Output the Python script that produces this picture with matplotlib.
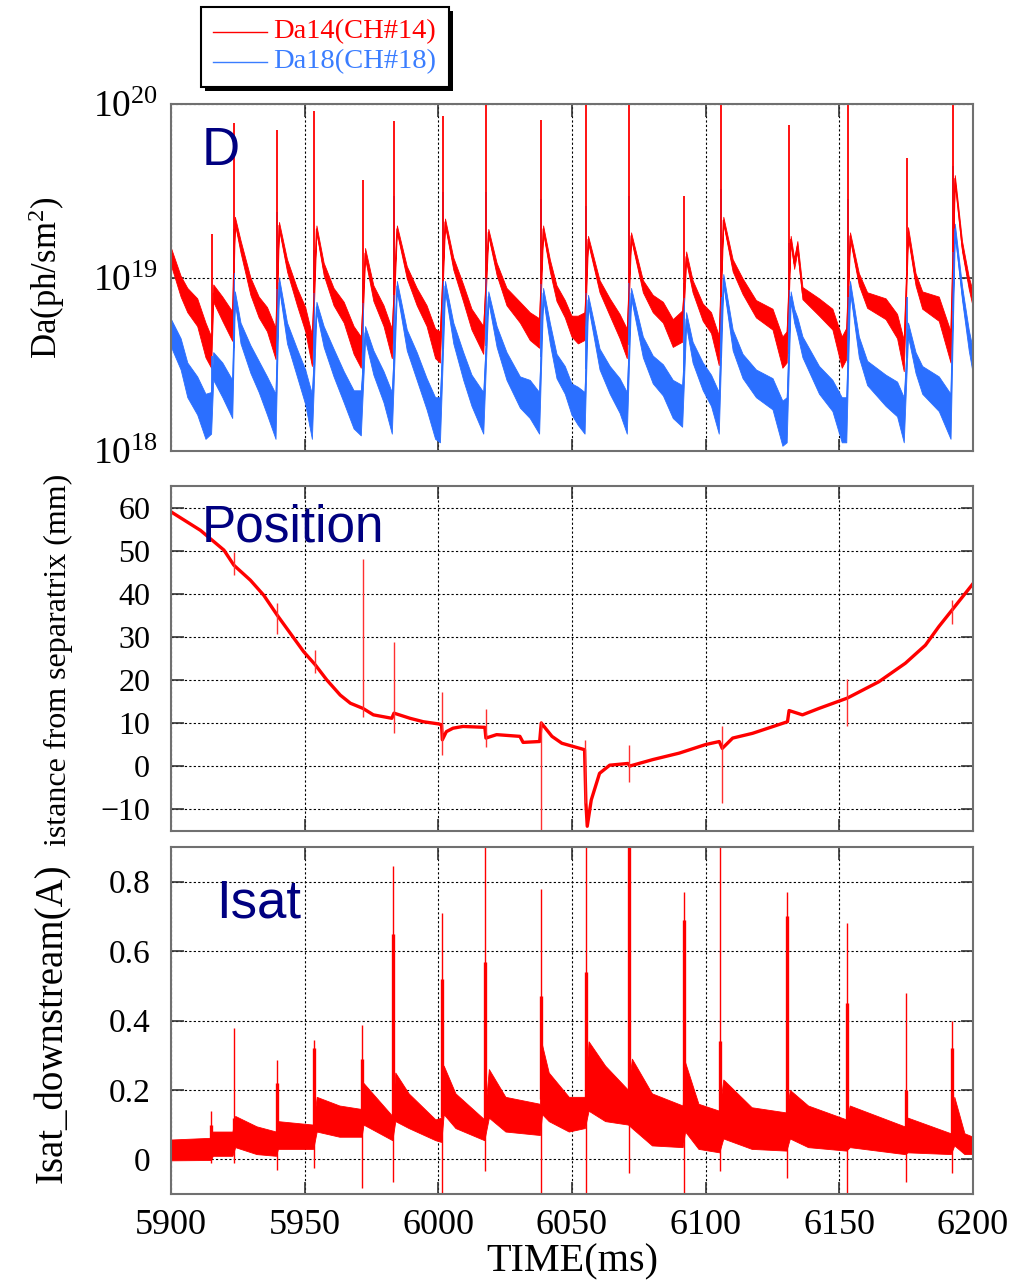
import numpy as np
import matplotlib.pyplot as plt
from matplotlib.lines import Line2D
from matplotlib.patches import Rectangle
from matplotlib.ticker import NullLocator

plt.rcParams['font.family'] = ['Liberation Serif', 'DejaVu Serif']
plt.rcParams['mathtext.fontset'] = 'custom'
plt.rcParams['mathtext.rm'] = 'Liberation Serif'
plt.rcParams['mathtext.it'] = 'Liberation Serif:italic'
plt.rcParams['mathtext.bf'] = 'Liberation Serif:bold'

W, H = 1032, 1282
RED = '#ff0000'
BLUE = '#2b6fff'
NAVY = '#000080'

time_ticks = [5900, 5950, 6000, 6050, 6100, 6150, 6200]

# ---- Da signals (log10 of ph/sm^2), knot times shared by both channels ----
da_time = [5900.0, 5903.6, 5906.1, 5909.8, 5912.9, 5915.0, 5915.8, 5919.2, 5922.9,
           5923.9, 5926.0, 5929.7, 5932.8, 5935.9, 5939.1,
           5940.4, 5943.4, 5947.1, 5950.2, 5952.7,
           5954.4, 5957.1, 5960.8, 5964.6, 5968.3, 5971.0,
           5972.6, 5975.7, 5979.5, 5982.6,
           5984.5, 5988.2, 5991.9, 5995.6, 5998.8, 6000.6,
           6002.5, 6005.6, 6009.3, 6012.4, 6016.8,
           6018.7, 6021.8, 6025.5, 6030.5, 6034.2, 6037.7,
           6039.2, 6041.7, 6044.2, 6047.3, 6049.8, 6052.2, 6054.7,
           6056.0, 6060.3, 6064.1, 6067.8, 6070.5,
           6072.1, 6076.5, 6080.2, 6084.0, 6087.7, 6091.2,
           6092.7, 6095.1, 6098.9, 6102.0, 6104.9,
           6106.6, 6110.1, 6113.8, 6118.8, 6125.0, 6128.7, 6130.3,
           6131.8, 6133.1, 6134.3, 6136.2, 6142.4, 6147.4, 6150.9, 6152.6,
           6154.0, 6157.3, 6160.4, 6167.3, 6171.6, 6174.1,
           6175.7, 6178.5, 6181.0, 6187.2, 6191.6,
           6193.2, 6195.9, 6198.4, 6200.0]
da14 = [19.12, 18.95, 18.87, 18.80, 18.64, 18.57, 18.91, 18.82, 18.72,
        19.33, 19.18, 18.95, 18.83, 18.76, 18.62,
        19.30, 19.07, 18.89, 18.76, 18.58,
        19.28, 19.05, 18.89, 18.80, 18.64, 18.57,
        19.14, 18.91, 18.78, 18.62,
        19.28, 19.03, 18.89, 18.78, 18.62, 18.60,
        19.32, 19.08, 18.91, 18.76, 18.64,
        19.26, 19.05, 18.89, 18.80, 18.72, 18.68,
        19.28, 19.07, 18.91, 18.82, 18.72, 18.70, 18.72,
        19.22, 18.95, 18.83, 18.72, 18.62,
        19.24, 18.95, 18.85, 18.80, 18.68, 18.72,
        19.12, 18.95, 18.80, 18.74, 18.58,
        19.33, 19.07, 18.95, 18.82, 18.76, 18.57, 18.60,
        19.22, 19.08, 19.18, 18.91, 18.83, 18.76, 18.57, 18.62,
        19.24, 18.99, 18.87, 18.82, 18.72, 18.55,
        19.26, 18.99, 18.87, 18.82, 18.60,
        19.57, 19.18, 18.97, 18.87]
da18 = [18.68, 18.56, 18.41, 18.32, 18.20, 18.22, 18.49, 18.41, 18.30,
        18.89, 18.68, 18.53, 18.43, 18.32, 18.20,
        18.97, 18.68, 18.51, 18.37, 18.20,
        18.83, 18.66, 18.51, 18.37, 18.24, 18.22,
        18.68, 18.51, 18.37, 18.22,
        18.95, 18.64, 18.49, 18.33, 18.19, 18.18,
        18.95, 18.68, 18.49, 18.35, 18.22,
        18.89, 18.66, 18.49, 18.34, 18.30, 18.22,
        18.91, 18.68, 18.49, 18.41, 18.30, 18.26, 18.22,
        18.87, 18.53, 18.41, 18.32, 18.22,
        18.91, 18.60, 18.47, 18.41, 18.30, 18.26,
        18.76, 18.57, 18.43, 18.35, 18.22,
        18.99, 18.64, 18.49, 18.39, 18.33, 18.16, 18.18,
        18.89, 18.78, 18.72, 18.60, 18.41, 18.32, 18.18, 18.18,
        18.95, 18.60, 18.45, 18.35, 18.30, 18.18,
        18.70, 18.51, 18.41, 18.33, 18.20,
        19.28, 18.91, 18.64, 18.51]
# half width of the noise band, in decades
da14_noise = [0.05, 0.06, 0.07, 0.08, 0.10, 0.09, 0.05, 0.07, 0.085,
              0.02, 0.035, 0.05, 0.06, 0.07, 0.09,
              0.02, 0.035, 0.05, 0.07, 0.09,
              0.02, 0.035, 0.05, 0.06, 0.08, 0.09,
              0.03, 0.045, 0.06, 0.085,
              0.02, 0.035, 0.05, 0.06, 0.085, 0.09,
              0.02, 0.035, 0.05, 0.06, 0.08,
              0.02, 0.035, 0.05, 0.06, 0.08, 0.085,
              0.02, 0.035, 0.045, 0.05, 0.06, 0.08, 0.08,
              0.02, 0.035, 0.05, 0.07, 0.085,
              0.02, 0.035, 0.05, 0.06, 0.08, 0.09,
              0.03, 0.035, 0.05, 0.06, 0.085,
              0.02, 0.035, 0.045, 0.05, 0.06, 0.09, 0.09,
              0.02, 0.03, 0.03, 0.035, 0.05, 0.06, 0.09, 0.09,
              0.02, 0.035, 0.045, 0.06, 0.07, 0.09,
              0.03, 0.035, 0.05, 0.07, 0.09,
              0.02, 0.03, 0.035, 0.045]
da18_noise = [0.08, 0.09, 0.10, 0.11, 0.13, 0.12, 0.08, 0.10, 0.11,
              0.03, 0.06, 0.08, 0.09, 0.11, 0.13,
              0.03, 0.06, 0.08, 0.10, 0.13,
              0.03, 0.06, 0.08, 0.09, 0.11, 0.13,
              0.04, 0.07, 0.09, 0.12,
              0.03, 0.06, 0.08, 0.09, 0.12, 0.13,
              0.03, 0.06, 0.08, 0.09, 0.12,
              0.03, 0.06, 0.08, 0.09, 0.11, 0.12,
              0.03, 0.06, 0.07, 0.08, 0.09, 0.11, 0.12,
              0.03, 0.06, 0.08, 0.10, 0.12,
              0.03, 0.06, 0.08, 0.09, 0.11, 0.12,
              0.04, 0.06, 0.08, 0.09, 0.12,
              0.03, 0.06, 0.07, 0.08, 0.09, 0.13, 0.13,
              0.03, 0.04, 0.05, 0.06, 0.08, 0.09, 0.13, 0.13,
              0.03, 0.06, 0.07, 0.09, 0.10, 0.13,
              0.04, 0.06, 0.08, 0.10, 0.13,
              0.03, 0.04, 0.06, 0.07]
# ELM bursts
elm_time = [5915.3, 5923.4, 5939.7, 5953.5, 5971.8, 5983.4, 6001.6, 6017.9, 6038.4,
            6055.2, 6071.4, 6091.8, 6105.6, 6131.1, 6153.2, 6175.2, 6192.5]
da14_peak = [19.25, 19.89, 19.85, 19.96, 19.56, 19.90, 19.93, 20.1, 19.91,
             20.1, 20.1, 19.47, 20.1, 19.88, 20.1, 19.69, 20.1]
da18_peak = [18.55, 19.28, 19.38, 19.16, 18.99, 19.47, 19.49, 19.49, 19.45,
             19.41, 19.47, 18.97, 19.51, 19.20, 19.45, 18.89, 19.64]

# ---- probe position (mm from separatrix) ----
pos_time = [5900.0, 5911.0, 5919.8, 5923.5, 5929.7, 5934.7, 5939.7, 5944.7, 5949.6,
            5954.0, 5958.3, 5963.3, 5967.1, 5971.8, 5975.7, 5982.6, 5983.4, 5989.4,
            5994.4, 6000.0, 6001.2, 6001.5, 6003.0, 6005.5, 6009.2, 6017.4, 6017.8,
            6021.8, 6030.5, 6031.7, 6037.9, 6038.5, 6042.5, 6046.2, 6054.7, 6055.2,
            6055.7, 6057.2, 6060.3, 6064.1, 6070.9, 6071.6, 6080.2, 6090.1, 6100.0,
            6105.1, 6106.2, 6110.1, 6117.5, 6130.6, 6131.2, 6136.2, 6142.4, 6153.0,
            6164.8, 6174.7, 6182.2, 6187.2, 6192.2, 6200.0]
pos_mm = [59.1, 54.8, 50.2, 46.7, 43.2, 39.7, 35.1, 30.8, 26.6,
          23.5, 20.0, 16.5, 14.6, 13.4, 11.9, 11.1, 12.3, 11.1,
          10.3, 9.8, 9.6, 6.1, 8.0, 8.8, 9.2, 9.0, 6.5,
          7.3, 6.9, 5.5, 5.7, 10.0, 6.9, 5.3, 3.8, -8.6,
          -14.0, -7.9, -1.7, 0.2, 0.6, 0.0, 1.5, 3.0, 5.0,
          5.7, 4.1, 6.5, 7.6, 10.3, 12.9, 11.9, 13.4, 15.8,
          19.6, 23.9, 28.1, 32.4, 36.3, 42.4]
pos_spike_time = [5923.5, 5939.7, 5953.8, 5971.7, 5983.3, 6001.5, 6017.7, 6038.4,
                  6055.0, 6071.4, 6106.0, 6153.0, 6192.3]
pos_spike_hi = [49.8, 37.8, 27.0, 48.2, 28.9, 17.1, 13.2, 10.4, 6.0, 4.9, 9.4, 20.2, 38.7]
pos_spike_lo = [44.4, 30.8, 21.6, 11.5, 7.6, 2.6, 4.4, -14.8, -8.6, -3.6, -8.6, 9.4, 33.0]

# ---- Isat downstream (A) ----
isat_time = [5900.0, 5915.0, 5915.6, 5923.0, 5924.0, 5932.0, 5939.3, 5940.0, 5953.2,
             5954.5, 5963.0, 5971.3, 5972.0, 5982.8, 5983.9, 5988.9, 5998.9, 6001.1,
             6002.0, 6006.4, 6017.2, 6018.9, 6025.1, 6038.0, 6038.8, 6041.3, 6048.8,
             6054.8, 6056.2, 6062.4, 6071.0, 6072.4, 6079.9, 6091.4, 6092.3, 6097.3,
             6105.1, 6106.6, 6117.2, 6130.2, 6131.5, 6138.3, 6152.6, 6153.9, 6174.4,
             6175.6, 6191.7, 6193.0, 6196.8, 6200.0]
isat_mid = [0.027, 0.030, 0.045, 0.045, 0.080, 0.055, 0.045, 0.070, 0.065,
            0.130, 0.110, 0.105, 0.160, 0.090, 0.180, 0.140, 0.085, 0.085,
            0.200, 0.140, 0.085, 0.190, 0.130, 0.115, 0.230, 0.180, 0.130,
            0.135, 0.240, 0.190, 0.150, 0.190, 0.115, 0.095, 0.180, 0.095,
            0.080, 0.145, 0.090, 0.080, 0.130, 0.095, 0.070, 0.095, 0.055,
            0.070, 0.045, 0.110, 0.045, 0.040]
isat_noise = [0.030, 0.032, 0.035, 0.035, 0.045, 0.040, 0.035, 0.040, 0.035,
              0.050, 0.045, 0.040, 0.060, 0.035, 0.070, 0.050, 0.030, 0.035,
              0.070, 0.050, 0.030, 0.070, 0.050, 0.045, 0.100, 0.070, 0.050,
              0.045, 0.100, 0.080, 0.050, 0.100, 0.075, 0.060, 0.100, 0.065,
              0.060, 0.085, 0.060, 0.055, 0.070, 0.060, 0.045, 0.060, 0.040,
              0.050, 0.030, 0.070, 0.030, 0.025]
isat_spike_time = [5915.1, 5923.5, 5939.6, 5953.6, 5971.6, 5983.1, 6001.4, 6017.6, 6038.4,
                   6055.2, 6071.4, 6091.8, 6105.5, 6130.6, 6153.0, 6174.8, 6192.0]
isat_spike_hi = [0.14, 0.378, 0.287, 0.344, 0.388, 0.846, 0.71, 0.95, 0.78,
                 0.95, 0.95, 0.77, 0.95, 0.77, 0.68, 0.48, 0.40]
isat_spike_core = [0.10, 0.12, 0.22, 0.32, 0.29, 0.65, 0.52, 0.57, 0.47,
                   0.54, 0.95, 0.69, 0.34, 0.70, 0.45, 0.20, 0.32]
isat_spike_lo = [-0.01, -0.01, -0.03, -0.026, -0.084, -0.065, -0.11, -0.035, -0.11,
                 -0.11, -0.04, -0.11, -0.035, -0.055, -0.11, -0.065, -0.04]


fig = plt.figure(figsize=(W / 100, H / 100), dpi=100)


def px_axes(x0, y0, x1, y1):
    return fig.add_axes([x0 / W, 1 - y1 / H, (x1 - x0) / W, (y1 - y0) / H])


ax1 = px_axes(171, 104, 973, 451)
ax2 = px_axes(171, 486, 973, 831)
ax3 = px_axes(171, 847, 973, 1194)

for ax in (ax1, ax2, ax3):
    ax.set_xlim(5900, 6200)
    ax.set_xticks(time_ticks)
    ax.set_axisbelow(True)
    ax.grid(True, color='black', linestyle=(0, (2, 2)), linewidth=0.8)
    ax.tick_params(direction='in', length=9, width=1.2, top=True, right=True,
                   color='#333333')
    for s in ax.spines.values():
        s.set_color('#707070')
        s.set_linewidth(1.5)
ax1.tick_params(labelbottom=False, labelsize=27, pad=9)
ax2.tick_params(labelbottom=False, labelsize=23, pad=15)
ax3.tick_params(axis='y', labelsize=24, pad=15)
ax3.tick_params(axis='x', labelsize=26, pad=11)

# --- D alpha ---
t = np.array(da_time)
for vals, noise, peaks, col in ((da18, da18_noise, da18_peak, BLUE),
                                (da14, da14_noise, da14_peak, RED)):
    c = np.array(vals)
    w = np.array(noise)
    ax1.fill_between(t, 10 ** (c - w), 10 ** (c + w), color=col, lw=0.6,
                     edgecolor=col)
    ax1.plot(t, 10 ** c, color=col, lw=0.8)
    base = np.interp(elm_time, t, c)
    ax1.vlines(elm_time, 10 ** base, 10 ** np.array(peaks), color=col, lw=1.3)
ax1.set_yscale('log')
ax1.set_ylim(1e18, 1e20)
ax1.set_yticks([1e18, 1e19, 1e20])
ax1.yaxis.set_minor_locator(NullLocator())

# --- position ---
ax2.plot(pos_time, pos_mm, color=RED, lw=2.4, solid_joinstyle='round')
ax2.vlines(pos_spike_time, pos_spike_lo, pos_spike_hi, color='#ff3030', lw=1.0)
ax2.set_ylim(-15.1, 65.1)
ax2.set_yticks([-10, 0, 10, 20, 30, 40, 50, 60])

# --- Isat ---
im = np.array(isat_mid)
iw = np.array(isat_noise)
ax3.fill_between(isat_time, im - iw, im + iw, color=RED, lw=0.6, edgecolor=RED)
base = np.interp(isat_spike_time, isat_time, im)
ax3.vlines(isat_spike_time, isat_spike_lo, isat_spike_hi, color=RED, lw=1.0)
ax3.vlines(isat_spike_time, base, isat_spike_core, color=RED, lw=2.4)
ax3.set_ylim(-0.1, 0.9)
ax3.set_yticks([0, 0.2, 0.4, 0.6, 0.8])
ax3.set_yticklabels(['0', '0.2', '0.4', '0.6', '0.8'])

# panel labels
fig.text(202 / W, 1 - 165 / H, 'D', fontsize=38, color=NAVY,
         family='Liberation Sans', va='baseline')
fig.text(202 / W, 1 - 542 / H, 'Position', fontsize=37, color=NAVY,
         family='Liberation Sans', va='baseline')
fig.text(216 / W, 1 - 917 / H, 'Isat', fontsize=38, color=NAVY,
         family='Liberation Sans', va='baseline')

# axis titles
fig.text(47 / W, 1 - 278 / H, 'Da(ph/sm$^2$)', rotation=90, ha='center',
         va='center', fontsize=25)
fig.text(58 / W, 1 - 660 / H, 'istance from separatrix (mm)', rotation=90,
         ha='center', va='center', fontsize=23)
fig.text(53 / W, 1 - 1023 / H, 'Isat_downstream(A)', rotation=90, ha='center',
         va='center', fontsize=28)
fig.text(572 / W, 1 - 1262 / H, 'TIME(ms)', ha='center', va='center', fontsize=29)

# legend box with hard shadow
fig.patches.append(Rectangle((205 / W, 1 - 91 / H), 248 / W, 80 / H,
                             transform=fig.transFigure, facecolor='black',
                             edgecolor='none'))
fig.patches.append(Rectangle((201 / W, 1 - 87 / H), 248 / W, 80 / H,
                             transform=fig.transFigure, facecolor='white',
                             edgecolor='black', lw=1.5))
for yy, col, txt in ((32, RED, 'Da14(CH#14)'), (62, '#3a7dff', 'Da18(CH#18)')):
    fig.lines.append(Line2D([213 / W, 267 / W], [1 - yy / H, 1 - yy / H],
                            transform=fig.transFigure, color=col, lw=1.0))
    fig.text(273 / W, 1 - yy / H, txt, color=col, fontsize=20.5, va='center')

fig.savefig('out.png', dpi=100)
